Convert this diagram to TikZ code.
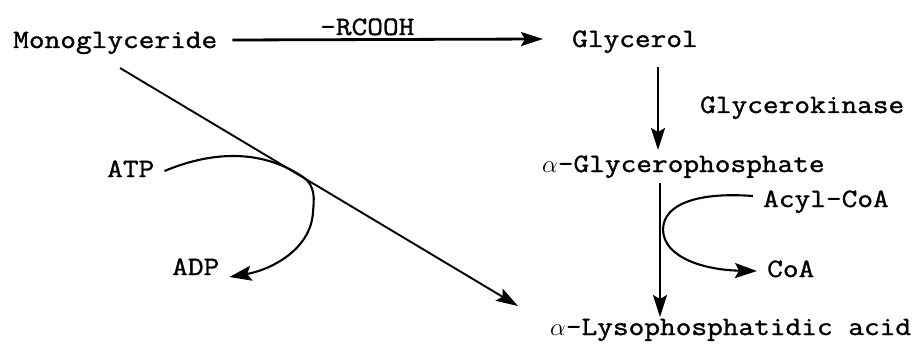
\documentclass[tikz,border=0pt]{standalone}
\usepackage{fontspec}
\newfontfamily\tw{Latin Modern Mono}[FakeStretch=1.15,FakeBold=1.3]
\usetikzlibrary{arrows.meta,calc}
\begin{document}
\begin{tikzpicture}[x=1pt,y=-1pt,
  lbl/.style={anchor=base west, inner sep=0pt, font=\tw\fontsize{26.5}{30}\selectfont},
  arr/.style={-{Stealth[length=22pt,width=14pt,inset=4pt]}, line width=1.9pt},
  curvearr/.style={-{Stealth[length=22pt,width=15pt,inset=4pt]}, line width=2.1pt}]
\useasboundingbox (0,0) rectangle (916,345);
% nodes
\node[lbl] (mono) at (13,48) {Monoglyceride};
\node[lbl] (rcooh) at (320,35) {-RCOOH};
\node[lbl] (glyc) at (572,47) {Glycerol};
\node[lbl] (kin) at (700,113) {Glycerokinase};
\node[lbl] (gp) at (542,172) {$\alpha$-Glycerophosphate};
\node[lbl] (acyl) at (763,207) {Acyl-CoA};
\node[lbl] (coa) at (767,277) {CoA};
\node[lbl] (lyso) at (550,335) {$\alpha$-Lysophosphatidic acid};
\node[lbl] (atp) at (107,177) {ATP};
\node[lbl] (adp) at (172,275) {ADP};
% connectors
\draw[arr, line width=2.8pt] ($(mono.base east)+(15,-8)$) -- ($(glyc.base west)+(-29,-8)$);
\draw[arr] ($(glyc.base west)+(86,20)$) -- ($(gp.base west)+(116,-22)$);
\draw[arr] ($(gp.base west)+(118,11)$) -- ($(lyso.base west)+(110,-18)$);
\draw[arr] ($(mono.base west)+(107,20)$) -- ($(lyso.base west)+(-32,-29)$);
\draw[curvearr] ($(atp.base east)+(10,-6)$)
   .. controls (210,152) and (260,148) .. (303,177)
   .. controls (316,186) and (314,200) .. (313,212)
   .. controls (311,250) and (270,270) .. ($(adp.base east)+(10,2)$);
\draw[curvearr] ($(acyl.base west)+(-10,-11)$)
   .. controls (700,192) and (663,203) .. (663,230)
   .. controls (664,258) and (705,270) .. ($(coa.base west)+(-10,-6)$);
\end{tikzpicture}
\end{document}
